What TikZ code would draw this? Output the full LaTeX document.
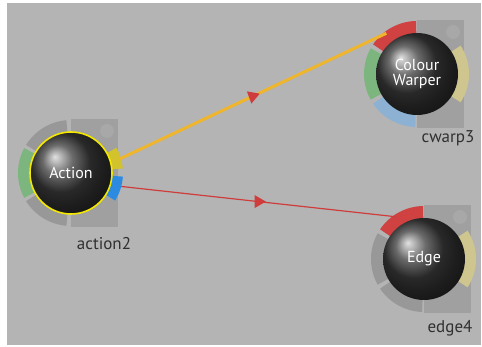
\documentclass[tikz,border=0pt]{standalone}
\usepackage{fontspec}
\setmainfont{PT Sans}
\usetikzlibrary{calc,shapes.geometric}
\definecolor{bggray}{HTML}{B4B4B4}
\definecolor{rectgray}{HTML}{A0A0A0}
\definecolor{seggray}{HTML}{989898}
\definecolor{pgreen}{HTML}{7DB57F}
\definecolor{pblue}{HTML}{8DB1D2}
\definecolor{pred}{HTML}{D04242}
\definecolor{pyellow}{HTML}{CEC68E}
\definecolor{ayellow}{HTML}{D2C22C}
\definecolor{ablue}{HTML}{2C8BE0}
\definecolor{lineyellow}{HTML}{EFB52C}
\definecolor{linered}{HTML}{CF3C3C}
\definecolor{labelgray}{HTML}{303030}
\definecolor{ballgray}{HTML}{3A3A3A}
\newcommand\ringseg[4]{\fill[#4] ($(#1)+(#2:53pt)$) arc[start angle=#2,end angle=#3,radius=53pt] -- ($(#1)+(#3:40pt)$) arc[start angle=#3,end angle=#2,radius=40pt] -- cycle;}
\newcommand\portseg[4]{\fill[#4] ($(#1)+(#2:52pt)$) arc[start angle=#2,end angle=#3,radius=52pt] -- ($(#1)+(#3:40pt)$) arc[start angle=#3,end angle=#2,radius=40pt] -- cycle;}
\newcommand\nodeback[1]{%
  \fill[rectgray] ($(#1)+(0,-54pt)$) rectangle ++(47pt,108pt);
  \fill[rectgray!92!white] ($(#1)+(36pt,42pt)$) circle[radius=7pt];
}
\tikzset{
  bub/.style={circle, minimum size=82pt, inner sep=0pt, shading=ball, ball color=ballgray,
    text=white, font=\fontsize{16}{16}\selectfont, align=center},
  lbl/.style={text=labelgray, font=\fontsize{17}{17}\selectfont, inner sep=0pt},
  flowtri/.style={regular polygon, regular polygon sides=3, fill=linered, minimum size=15pt, inner sep=0pt},
}
\begin{document}
\begin{tikzpicture}[x=1pt,y=1pt]
\useasboundingbox (0,0) rectangle (482,347);
\fill[white] (0,0) rectangle (482,347);
\fill[bggray] (7,2) rectangle (481,344);
\coordinate (actC) at (71,174);
\coordinate (cwC) at (417,273);
\coordinate (edC) at (424,88);
% backgrounds
\nodeback{actC}
\nodeback{cwC}
\nodeback{edC}
% action rings
\ringseg{actC}{95}{148}{seggray}
\ringseg{actC}{152}{208}{pgreen}
\ringseg{actC}{212}{265}{seggray}
\portseg{actC}{5}{29}{ayellow}
\portseg{actC}{-4}{-32}{ablue}
% colour warper rings
\ringseg{cwC}{91}{146}{pred}
\ringseg{cwC}{151}{209}{pgreen}
\ringseg{cwC}{214}{268}{pblue}
\portseg{cwC}{-33}{33}{pyellow}
% edge rings
\ringseg{edC}{91}{146}{pred}
\ringseg{edC}{151}{209}{seggray}
\ringseg{edC}{214}{268}{seggray}
\portseg{edC}{-33}{33}{pyellow}
% ports
\coordinate (actY) at ($(actC)+(16:50pt)$);
\coordinate (actB) at ($(actC)+(-15:52pt)$);
\coordinate (cwIn) at ($(cwC)+(127:51pt)$);
\coordinate (edIn) at ($(edC)+(124:51pt)$);
% connectors
\draw[lineyellow, line width=3pt] (actY) -- node[flowtri, rotate=170] (m1) {} (cwIn);
\draw[linered, line width=1.2pt] (actB) -- node[flowtri, rotate=-90] (m2) {} (edIn);
% nodes
\node[bub, draw=yellow!90!olive, line width=1.6pt] (act) at (actC) {Action};
\node[bub] (cw) at (cwC) {Colour\\[-1pt]Warper};
\node[bub] (ed) at (edC) {Edge};
% labels
\node[lbl] (actL) at (104,103) {action2};
\node[lbl] (cwL) at (448,209) {cwarp3};
\node[lbl] (edL) at (450,19) {edge4};
\end{tikzpicture}
\end{document}
